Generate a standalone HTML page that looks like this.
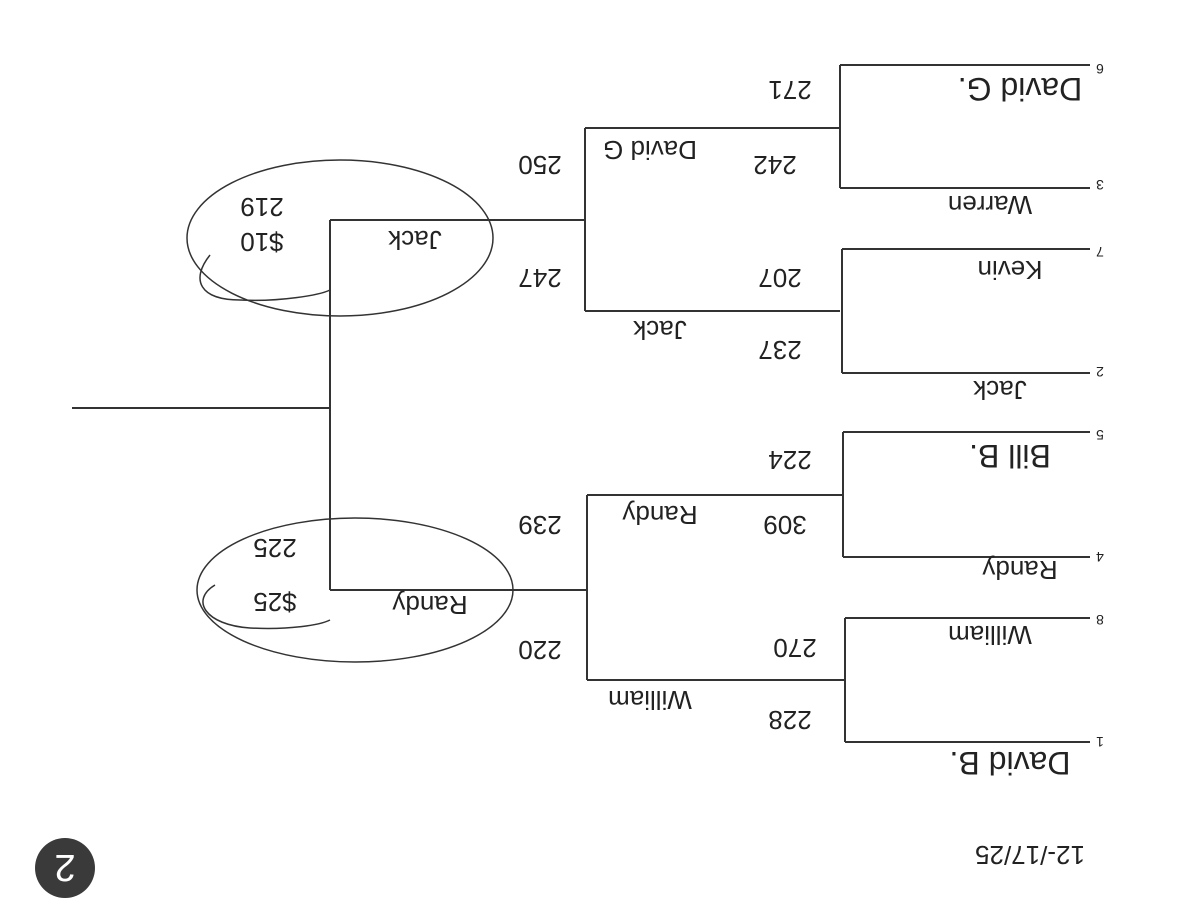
<!DOCTYPE html>
<html><head><meta charset="utf-8"><style>
html,body{margin:0;padding:0;background:#fff;}
svg{display:block}
text{font-family:"Liberation Sans",sans-serif;fill:#222;}
</style></head><body>
<svg width="1200" height="919" viewBox="0 0 1200 919" xmlns="http://www.w3.org/2000/svg">
<rect width="1200" height="919" fill="#fff"/>
<g stroke="#333" stroke-width="2" fill="none">
<path d="M72 408H330M330 220V590M330 220H585M330 590H587"/>
<path d="M585 128V311M585 128H840M585 311H840"/>
<path d="M840 65V188M840 65H1090M840 188H1090"/>
<path d="M842 249V373M842 249H1090M842 373H1090"/>
<path d="M587 495V680M587 495H843M587 680H845"/>
<path d="M843 432V557M843 432H1090M843 557H1090"/>
<path d="M845 618V742M845 618H1090M845 742H1090"/>
</g>
<g stroke="#333" stroke-width="1.5" fill="none">
<ellipse cx="340" cy="238" rx="153" ry="78"/>
<path d="M210 255C190 280 200 300 240 300C280 302 320 295 330 290"/>
<ellipse cx="355" cy="590" rx="158" ry="72"/>
<path d="M215 585C190 600 205 625 250 628C290 630 320 625 330 620"/>
</g>
<circle cx="65" cy="868" r="30" fill="#3a3a3a"/>
<text transform="translate(65,868) rotate(180)" text-anchor="middle" dy="13" font-size="38" style="fill:#fff" font-family="Liberation Serif">2</text>
<g font-size="14" font-family="Liberation Serif">
<text transform="translate(1100,69) rotate(180)" text-anchor="middle" dy="5">6</text>
<text transform="translate(1100,185) rotate(180)" text-anchor="middle" dy="5">3</text>
<text transform="translate(1100,252) rotate(180)" text-anchor="middle" dy="5">7</text>
<text transform="translate(1100,372) rotate(180)" text-anchor="middle" dy="5">2</text>
<text transform="translate(1100,435) rotate(180)" text-anchor="middle" dy="5">5</text>
<text transform="translate(1100,557) rotate(180)" text-anchor="middle" dy="5">4</text>
<text transform="translate(1100,620) rotate(180)" text-anchor="middle" dy="5">8</text>
<text transform="translate(1100,742) rotate(180)" text-anchor="middle" dy="5">1</text>
</g>
<g font-size="26">
<text transform="translate(1030,855) rotate(180)" text-anchor="middle" dy="9">12-/17/25</text>
<text transform="translate(790,90) rotate(180)" text-anchor="middle" dy="9">271</text>
<text transform="translate(540,165) rotate(180)" text-anchor="middle" dy="9">250</text>
<text transform="translate(775,165) rotate(180)" text-anchor="middle" dy="9">242</text>
<text transform="translate(540,278) rotate(180)" text-anchor="middle" dy="9">247</text>
<text transform="translate(780,278) rotate(180)" text-anchor="middle" dy="9">207</text>
<text transform="translate(780,350) rotate(180)" text-anchor="middle" dy="9">237</text>
<text transform="translate(790,460) rotate(180)" text-anchor="middle" dy="9">224</text>
<text transform="translate(540,525) rotate(180)" text-anchor="middle" dy="9">239</text>
<text transform="translate(785,525) rotate(180)" text-anchor="middle" dy="9">309</text>
<text transform="translate(540,650) rotate(180)" text-anchor="middle" dy="9">220</text>
<text transform="translate(795,648) rotate(180)" text-anchor="middle" dy="9">270</text>
<text transform="translate(790,720) rotate(180)" text-anchor="middle" dy="9">228</text>
<text transform="translate(262,242) rotate(180)" text-anchor="middle" dy="9">$10</text>
<text transform="translate(262,207) rotate(180)" text-anchor="middle" dy="9">219</text>
<text transform="translate(275,602) rotate(180)" text-anchor="middle" dy="9">$25</text>
<text transform="translate(275,548) rotate(180)" text-anchor="middle" dy="9">225</text>
<text transform="translate(1020,88) rotate(180)" text-anchor="middle" dy="10" font-size="32">David G.</text>
<text transform="translate(990,205) rotate(180)" text-anchor="middle" dy="9">Warren</text>
<text transform="translate(1010,270) rotate(180)" text-anchor="middle" dy="9">Kevin</text>
<text transform="translate(1000,390) rotate(180)" text-anchor="middle" dy="9">Jack</text>
<text transform="translate(1010,455) rotate(180)" text-anchor="middle" dy="10" font-size="32">Bill B.</text>
<text transform="translate(1020,570) rotate(180)" text-anchor="middle" dy="9">Randy</text>
<text transform="translate(990,635) rotate(180)" text-anchor="middle" dy="9">William</text>
<text transform="translate(1010,762) rotate(180)" text-anchor="middle" dy="10" font-size="32">David B.</text>
<text transform="translate(650,150) rotate(180)" text-anchor="middle" dy="9">David G</text>
<text transform="translate(660,330) rotate(180)" text-anchor="middle" dy="9">Jack</text>
<text transform="translate(660,515) rotate(180)" text-anchor="middle" dy="9">Randy</text>
<text transform="translate(650,700) rotate(180)" text-anchor="middle" dy="9">William</text>
<text transform="translate(415,240) rotate(180)" text-anchor="middle" dy="9">Jack</text>
<text transform="translate(430,605) rotate(180)" text-anchor="middle" dy="9">Randy</text>
</g>
</svg>
</body></html>
